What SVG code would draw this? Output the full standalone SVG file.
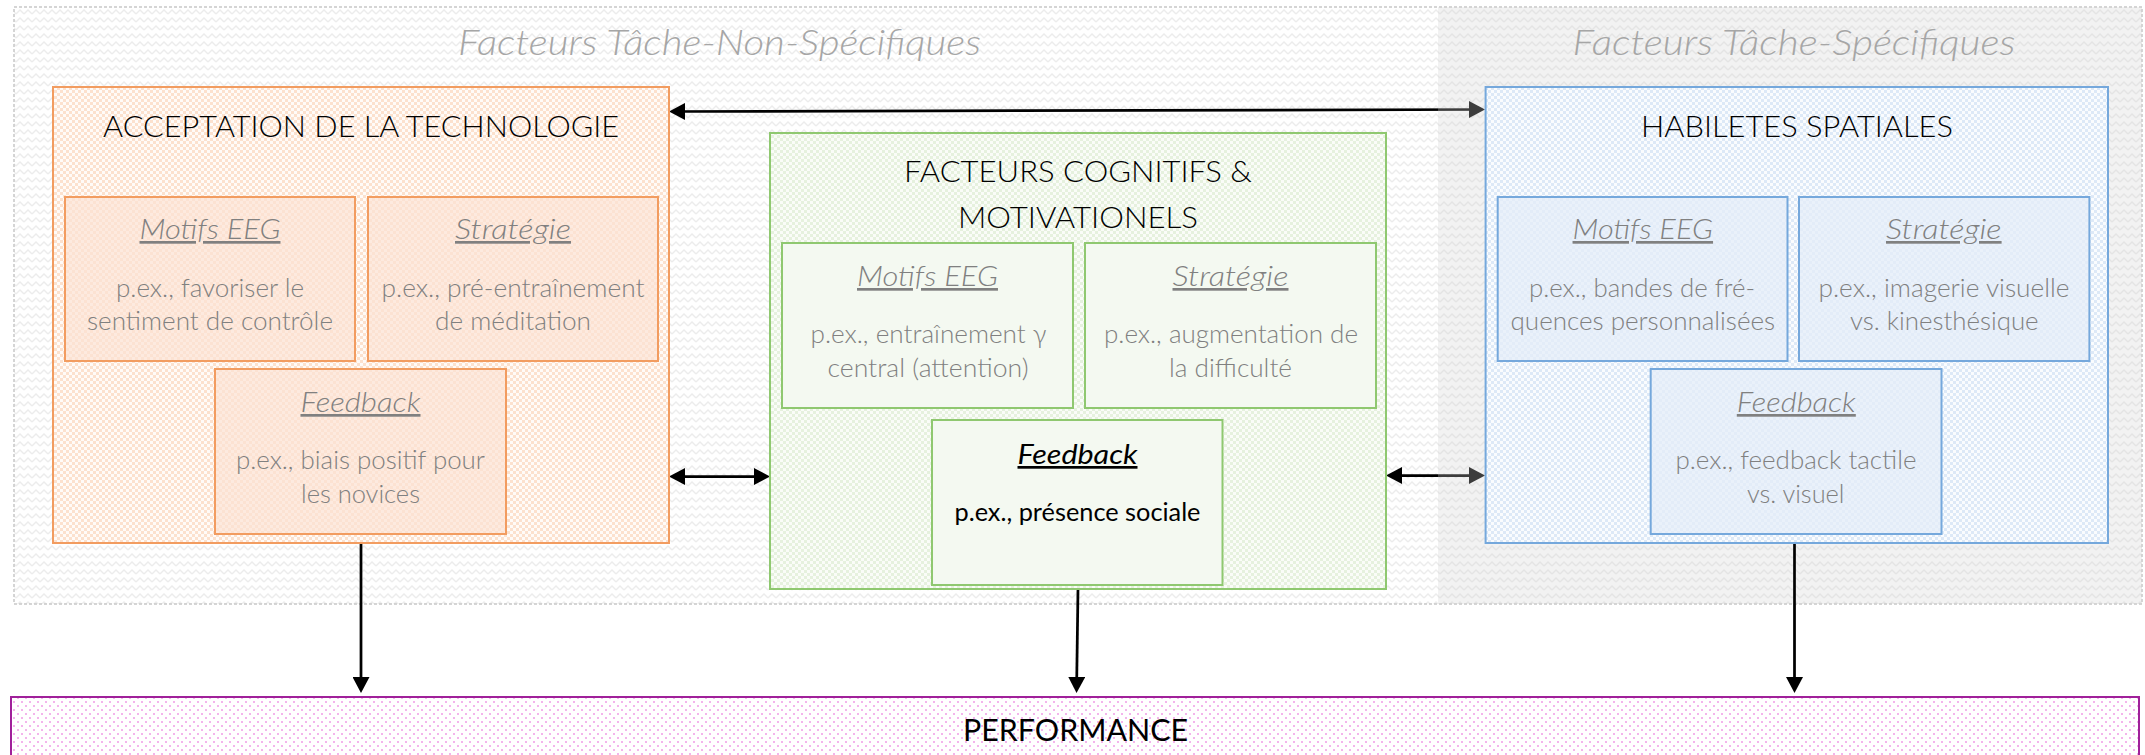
<svg xmlns="http://www.w3.org/2000/svg" width="2145" height="755" viewBox="0 0 2145 755">
<style>
text{font-family:Lato,"Open Sans","Liberation Sans",sans-serif;text-anchor:middle}
.zone{font-size:35px;font-style:italic;font-weight:300;fill:#a6a6a6}
.head{font-size:30px;font-weight:300;fill:#000}
.sub{font-size:27px;font-style:italic;font-weight:300;fill:#808080;text-decoration:underline}
.body{font-size:25px;font-weight:300;fill:#808080}
.subk{font-size:27px;font-style:italic;font-weight:400;fill:#000;text-decoration:underline}
.bodyk{font-size:25px;font-weight:400;fill:#000}
.perf{font-size:31px;font-weight:400;fill:#000}
.conn{stroke:#000;stroke-width:2.75;fill:none}
.o1{fill:url(#pOr);stroke:#F29C60;stroke-width:2}
.o2{fill:url(#pOr2);stroke:#F29C60;stroke-width:2}
.g1{fill:url(#pGr);stroke:#8FC870;stroke-width:2}
.g2{fill:#F4F9F1;stroke:#8FC870;stroke-width:2}
.b1{fill:url(#pBl);stroke:#75A8DC;stroke-width:2}
.b2{fill:url(#pBl2);stroke:#75A8DC;stroke-width:2}
</style>
<defs>
<pattern id="zig" width="8" height="8" patternUnits="userSpaceOnUse"><rect width="8" height="8" fill="#ffffff"/><path d="M0,6 L4,2 L8,6" stroke="#ececec" stroke-width="1.3" fill="none"/></pattern>
<pattern id="pOr" width="6" height="6" patternUnits="userSpaceOnUse"><rect width="6" height="6" fill="#FFFBF8"/><rect width="3" height="3" fill="#FCE1CE"/><rect x="3" y="3" width="3" height="3" fill="#FCE1CE"/></pattern>
<pattern id="pOr2" width="6" height="6" patternUnits="userSpaceOnUse"><rect width="6" height="6" fill="#FDEADF"/><rect width="3" height="3" fill="#FCE2D2"/><rect x="3" y="3" width="3" height="3" fill="#FCE2D2"/></pattern>
<pattern id="pGr" width="6" height="6" patternUnits="userSpaceOnUse"><rect width="6" height="6" fill="#FAFCF8"/><rect width="3" height="3" fill="#E6F1DE"/><rect x="3" y="3" width="3" height="3" fill="#E6F1DE"/></pattern>
<pattern id="pBl" width="6" height="6" patternUnits="userSpaceOnUse"><rect width="6" height="6" fill="#FAFCFE"/><rect width="3" height="3" fill="#DDE9F7"/><rect x="3" y="3" width="3" height="3" fill="#DDE9F7"/></pattern>
<pattern id="pBl2" width="6" height="6" patternUnits="userSpaceOnUse"><rect width="6" height="6" fill="#EAF1FA"/><rect width="3" height="3" fill="#E3ECF8"/><rect x="3" y="3" width="3" height="3" fill="#E3ECF8"/></pattern>
<pattern id="pDot" width="8" height="8" patternUnits="userSpaceOnUse"><rect width="8" height="8" fill="#ffffff"/><rect x="1" y="1" width="2" height="2" fill="#F3B5EC"/><rect x="5" y="5" width="2" height="2" fill="#F3B5EC"/></pattern>
<marker id="ah" viewBox="0 0 16 17" refX="12" refY="8.5" markerUnits="userSpaceOnUse" markerWidth="16" markerHeight="17" orient="auto-start-reverse"><path d="M0,0 L16,8.5 L0,17 Z" fill="#000"/></marker>
</defs>

<g id="background">
<rect x="14" y="7" width="2128" height="597" fill="url(#zig)" stroke="#c8c8c8" stroke-width="1.5" stroke-dasharray="3 2"/>
<text class="zone" x="719.5" y="55" textLength="523" lengthAdjust="spacingAndGlyphs">Facteurs Tâche-Non-Spécifiques</text>
</g>

<g id="connectors">
<line class="conn" x1="673" y1="111.5" x2="1481" y2="109.5" marker-start="url(#ah)" marker-end="url(#ah)"/>
<line class="conn" x1="673" y1="476.5" x2="766" y2="476.5" marker-start="url(#ah)" marker-end="url(#ah)"/>
<line class="conn" x1="1390" y1="475.5" x2="1481" y2="475.5" marker-start="url(#ah)" marker-end="url(#ah)"/>
<line class="conn" x1="361" y1="543" x2="361" y2="689" marker-end="url(#ah)"/>
<line class="conn" x1="1078" y1="589" x2="1076.6" y2="689" marker-end="url(#ah)"/>
<line class="conn" x1="1794.5" y1="543" x2="1794.5" y2="689" marker-end="url(#ah)"/>
</g>

<g id="zone-specifique">
<path d="M1438,7 H2142 V604 H1438 Z M1793.1,543 H1795.9 V604 H1793.1 Z" fill-rule="evenodd" fill="rgb(210,210,210)" fill-opacity="0.29"/>
<text class="zone" x="1794" y="55" textLength="443" lengthAdjust="spacingAndGlyphs">Facteurs Tâche-Spécifiques</text>
</g>

<g id="acceptation">
<rect class="o1" x="53" y="87" width="616" height="456"/>
<text class="head" x="361" y="137" textLength="516" lengthAdjust="spacingAndGlyphs">ACCEPTATION DE LA TECHNOLOGIE</text>
<g id="acceptation-motifs">
<rect class="o2" x="65" y="197" width="290" height="164"/>
<text class="sub" x="210" y="239" textLength="141" lengthAdjust="spacingAndGlyphs">Motifs EEG</text>
<text class="body" x="210" y="297" textLength="188" lengthAdjust="spacingAndGlyphs">p.ex., favoriser le</text>
<text class="body" x="210" y="330" textLength="246" lengthAdjust="spacingAndGlyphs">sentiment de contrôle</text>
</g>
<g id="acceptation-strategie">
<rect class="o2" x="368" y="197" width="290" height="164"/>
<text class="sub" x="513" y="239" textLength="116" lengthAdjust="spacingAndGlyphs">Stratégie</text>
<text class="body" x="513" y="297" textLength="263" lengthAdjust="spacingAndGlyphs">p.ex., pré-entraînement</text>
<text class="body" x="513" y="330" textLength="156" lengthAdjust="spacingAndGlyphs">de méditation</text>
</g>
<g id="acceptation-feedback">
<rect class="o2" x="215" y="369" width="291" height="165"/>
<text class="sub" x="360.5" y="412" textLength="120" lengthAdjust="spacingAndGlyphs">Feedback</text>
<text class="body" x="360.5" y="469" textLength="249" lengthAdjust="spacingAndGlyphs">p.ex., biais positif pour</text>
<text class="body" x="360.5" y="502.5" textLength="119" lengthAdjust="spacingAndGlyphs">les novices</text>
</g>
</g>

<g id="cognitifs">
<rect class="g1" x="770" y="133" width="616" height="456"/>
<text class="head" x="1078" y="182" textLength="348" lengthAdjust="spacingAndGlyphs">FACTEURS COGNITIFS &amp;</text>
<text class="head" x="1078" y="228" textLength="240" lengthAdjust="spacingAndGlyphs">MOTIVATIONELS</text>
<g id="cognitifs-motifs">
<rect class="g2" x="782" y="243" width="291" height="165"/>
<text class="sub" x="927.5" y="286" textLength="141" lengthAdjust="spacingAndGlyphs">Motifs EEG</text>
<text class="body" x="928.5" y="343" textLength="236" lengthAdjust="spacingAndGlyphs">p.ex., entraînement γ</text>
<text class="body" x="928" y="376.5" textLength="201" lengthAdjust="spacingAndGlyphs">central (attention)</text>
</g>
<g id="cognitifs-strategie">
<rect class="g2" x="1085" y="243" width="291" height="165"/>
<text class="sub" x="1230.5" y="286" textLength="116" lengthAdjust="spacingAndGlyphs">Stratégie</text>
<text class="body" x="1231" y="343" textLength="254" lengthAdjust="spacingAndGlyphs">p.ex., augmentation de</text>
<text class="body" x="1230.5" y="376.5" textLength="123" lengthAdjust="spacingAndGlyphs">la difficulté</text>
</g>
<g id="cognitifs-feedback">
<rect class="g2" x="932" y="420" width="290.5" height="165"/>
<text class="subk" x="1077.5" y="464" textLength="120" lengthAdjust="spacingAndGlyphs">Feedback</text>
<text class="bodyk" x="1077.5" y="521" textLength="246" lengthAdjust="spacingAndGlyphs">p.ex., présence sociale</text>
</g>
</g>

<g id="habiletes">
<rect class="b1" x="1485.6" y="87" width="622.4" height="456"/>
<text class="head" x="1797" y="137" textLength="312" lengthAdjust="spacingAndGlyphs">HABILETES SPATIALES</text>
<g id="habiletes-motifs">
<rect class="b2" x="1497.7" y="197" width="289.8" height="164"/>
<text class="sub" x="1642.8" y="239" textLength="140.5" lengthAdjust="spacingAndGlyphs">Motifs EEG</text>
<text class="body" x="1642" y="297" textLength="226" lengthAdjust="spacingAndGlyphs">p.ex., bandes de fré-</text>
<text class="body" x="1642.8" y="330" textLength="264.5" lengthAdjust="spacingAndGlyphs">quences personnalisées</text>
</g>
<g id="habiletes-strategie">
<rect class="b2" x="1799" y="197" width="290.4" height="164"/>
<text class="sub" x="1943.8" y="239" textLength="115.6" lengthAdjust="spacingAndGlyphs">Stratégie</text>
<text class="body" x="1944" y="297" textLength="251" lengthAdjust="spacingAndGlyphs">p.ex., imagerie visuelle</text>
<text class="body" x="1944.3" y="330" textLength="188.6" lengthAdjust="spacingAndGlyphs">vs. kinesthésique</text>
</g>
<g id="habiletes-feedback">
<rect class="b2" x="1650.7" y="369" width="290.8" height="165"/>
<text class="sub" x="1796.3" y="412" textLength="119" lengthAdjust="spacingAndGlyphs">Feedback</text>
<text class="body" x="1796" y="469" textLength="241" lengthAdjust="spacingAndGlyphs">p.ex., feedback tactile</text>
<text class="body" x="1795.7" y="502.5" textLength="97.6" lengthAdjust="spacingAndGlyphs">vs. visuel</text>
</g>
</g>

<g id="performance">
<rect x="11" y="697" width="2128" height="80" fill="url(#pDot)" stroke="#A0209A" stroke-width="2"/>
<text class="perf" x="1075.5" y="741" textLength="225" lengthAdjust="spacingAndGlyphs">PERFORMANCE</text>
</g>
</svg>
